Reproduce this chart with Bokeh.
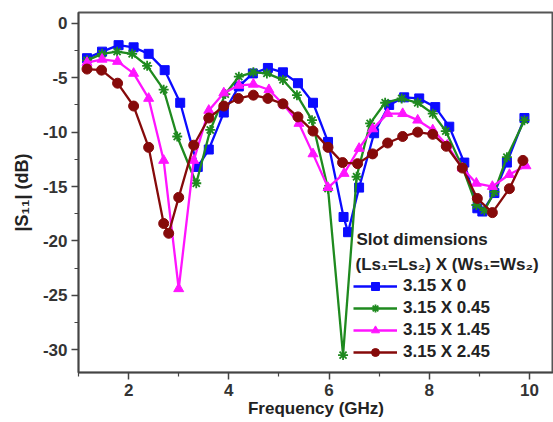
from bokeh.plotting import figure
from bokeh.models import (ColumnDataSource, Legend, LegendItem, Label,
                          FixedTicker)
from bokeh.embed import file_html
from bokeh.resources import INLINE

# ---------------- data ----------------
x_ticks = [2, 4, 6, 8, 10]
x_minor = [1, 3, 5, 7, 9]
y_ticks = [-30, -25, -20, -15, -10, -5, 0]
y_minor = [-27.5, -22.5, -17.5, -12.5, -7.5, -2.5]

blue_f = [1.17, 1.47, 1.80, 2.10, 2.40, 2.72, 3.03, 3.38, 3.60, 3.90, 4.20, 4.48,
          4.78, 5.08, 5.38, 5.68, 5.98, 6.29, 6.38, 6.60, 6.90, 7.20, 7.50, 7.80,
          8.12, 8.40, 8.70, 8.96, 9.06, 9.30, 9.55, 9.90]
blue_v = [-3.2, -2.6, -2.0, -2.2, -2.8, -4.3, -7.3, -13.2, -11.6, -8.2, -5.8, -4.6,
          -4.1, -4.5, -5.5, -7.3, -10.9, -17.8, -19.2, -15.1, -10.1, -7.5, -6.8, -6.9,
          -7.7, -9.5, -12.8, -17.0, -17.3, -15.6, -12.8, -8.7]

green_f = [1.17, 1.47, 1.77, 2.07, 2.37, 2.70, 2.97, 3.35, 3.63, 3.93, 4.20, 4.49,
           4.76, 5.08, 5.36, 5.66, 5.98, 6.28, 6.55, 6.82, 7.12, 7.45, 7.77, 8.07,
           8.33, 8.66, 8.94, 9.10, 9.30, 9.55, 9.90]
green_v = [-3.4, -2.8, -2.6, -2.8, -3.9, -6.1, -10.4, -14.7, -9.8, -6.5, -4.9, -4.5,
           -4.6, -5.2, -6.6, -8.9, -15.2, -30.5, -14.1, -9.2, -7.3, -6.9, -7.3, -8.3,
           -9.9, -13.2, -16.7, -17.2, -15.5, -12.3, -8.9]

pink_f = [1.17, 1.47, 1.78, 2.10, 2.40, 2.70, 3.00, 3.30, 3.60, 3.90, 4.20, 4.49,
          4.80, 5.10, 5.40, 5.68, 5.98, 6.30, 6.60, 6.87, 7.17, 7.47, 7.77, 8.07,
          8.36, 8.66, 8.94, 9.26, 9.60, 9.93]
pink_v = [-3.6, -3.3, -3.5, -4.6, -6.9, -12.6, -24.4, -12.6, -8.0, -6.4, -5.7, -5.6,
          -6.1, -7.5, -9.2, -12.0, -15.1, -13.8, -11.5, -9.7, -8.3, -8.3, -8.9, -9.8,
          -11.2, -13.3, -14.7, -15.0, -13.9, -13.1]

brown_f = [1.17, 1.46, 1.78, 2.10, 2.40, 2.70, 2.80, 3.00, 3.30, 3.60, 3.90, 4.19,
           4.49, 4.78, 5.08, 5.38, 5.68, 5.98, 6.27, 6.57, 6.87, 7.17, 7.47, 7.77,
           8.07, 8.34, 8.66, 8.96, 9.26, 9.60, 9.87]
brown_v = [-4.2, -4.3, -5.5, -7.6, -11.4, -18.4, -19.3, -16.0, -11.2, -8.7, -7.6, -6.9,
           -6.6, -6.9, -7.4, -8.6, -9.9, -11.4, -12.8, -12.9, -12.0, -11.0, -10.4, -10.0,
           -10.2, -11.3, -13.3, -16.1, -17.4, -15.2, -12.6]

labels = ["3.15 X 0", "3.15 X 0.45", "3.15 X 1.45", "3.15 X 2.45"]

# ---------------- figure ----------------
FONT = "Liberation Sans"
p = figure(width=553, height=422, x_range=(1.0, 10.48), y_range=(-32.1, 1.0),
           output_backend="svg", toolbar_location=None,
           min_border_left=78, min_border_right=0, min_border_top=12,
           min_border_bottom=50)
p.grid.visible = False
p.outline_line_color = "#555555"
p.outline_line_width = 2
p.background_fill_color = "white"

series = [
    (blue_f, blue_v, "#0b0bff", "square", 9),
    (green_f, green_v, "#1f8a1f", "asterisk", 10),
    (pink_f, pink_v, "#ff14ff", "triangle", 10),
    (brown_f, brown_v, "#860a0a", "circle", 10),
]
items = []
for (f, v, col, mk, sz), lab in zip(series, labels):
    src = ColumnDataSource(dict(f=f, v=v))
    lr = p.line("f", "v", source=src, line_color=col, line_width=2.3)
    if mk == "asterisk":
        sr = p.scatter("f", "v", source=src, marker=mk, size=sz, line_color=col,
                       line_width=1.8)
    else:
        sr = p.scatter("f", "v", source=src, marker=mk, size=sz, fill_color=col,
                       line_color=col)
    items.append(LegendItem(label=lab, renderers=[lr, sr]))

legend = Legend(items=items, location=(275, 10), padding=0, margin=0,
                background_fill_alpha=0, border_line_alpha=0,
                glyph_width=44, glyph_height=20, label_height=20, spacing=2,
                label_standoff=6, label_text_font=FONT, label_text_font_size="17px",
                label_text_font_style="bold", label_text_color="#222222")
p.add_layout(legend, "center")

# axes
for ax in (p.xaxis[0], p.yaxis[0]):
    ax.axis_line_color = "#444444"
    ax.axis_line_width = 1.5
    ax.major_tick_line_color = "#444444"
    ax.minor_tick_line_color = "#444444"
    ax.major_tick_line_width = 1.5
    ax.minor_tick_line_width = 1.2
    ax.major_tick_in = 0
    ax.major_tick_out = 7
    ax.minor_tick_in = 0
    ax.minor_tick_out = 4
    ax.major_label_text_font = FONT
    ax.major_label_text_font_size = "17px"
    ax.major_label_text_font_style = "bold"
    ax.major_label_text_color = "#333333"
    ax.major_label_standoff = 4
    ax.axis_label_text_font = FONT
    ax.axis_label_text_font_style = "bold"
    ax.axis_label_text_color = "#222222"

p.xaxis[0].ticker = FixedTicker(ticks=x_ticks, minor_ticks=x_minor)
p.yaxis[0].ticker = FixedTicker(ticks=y_ticks, minor_ticks=y_minor)
p.yaxis[0].major_label_overrides = {t: str(t) for t in y_ticks}

p.yaxis[0].axis_label = "|S\u2081\u2081| (dB)"
p.yaxis[0].axis_label_text_font_size = "18px"
p.yaxis[0].axis_label_standoff = 8

p.xaxis[0].axis_label = "Frequency (GHz)"
p.xaxis[0].axis_label_text_font_size = "17px"
p.xaxis[0].axis_label_standoff = 0

# legend title lines
p.add_layout(Label(x=278, y=133, x_units="screen", y_units="screen",
                   text="Slot dimensions", text_align="left",
                   text_baseline="middle", text_font=FONT, text_font_size="17px",
                   text_font_style="bold", text_color="#222222"))
p.add_layout(Label(x=277, y=108, x_units="screen", y_units="screen",
                   text="(Ls\u2081=Ls\u2082) X (Ws\u2081=Ws\u2082)", text_align="left",
                   text_baseline="middle", text_font=FONT, text_font_size="17px",
                   text_font_style="bold", text_color="#222222"))

open("out.html", "w").write(file_html(p, INLINE))
